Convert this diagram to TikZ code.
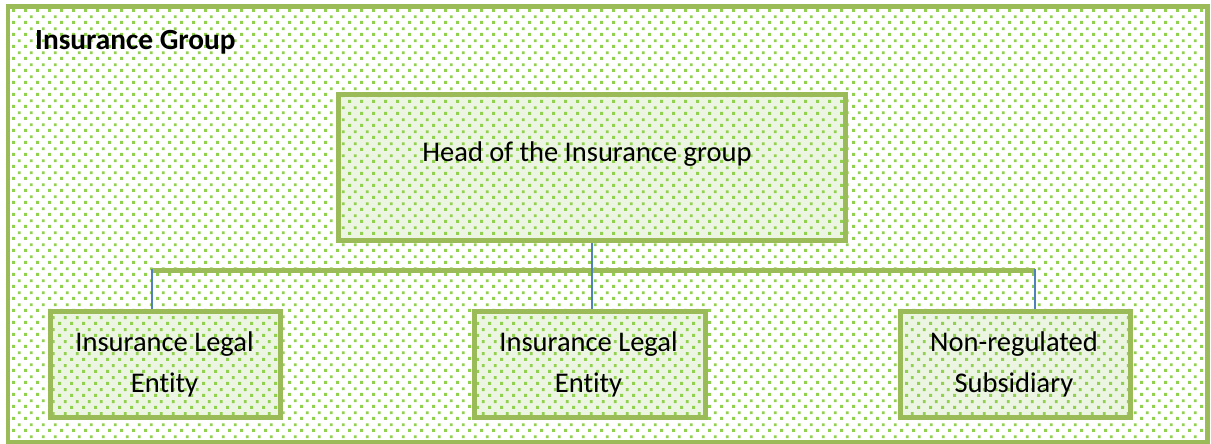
\documentclass[tikz,border=0pt]{standalone}
\usepackage{fontspec}
\setmainfont[Ligatures={NoCommon,NoContextual}]{Carlito}
\usetikzlibrary{patterns.meta}
\definecolor{bordergreen}{RGB}{155,187,89}
\definecolor{dotgreen}{RGB}{146,208,80}
\definecolor{boxfill}{RGB}{235,245,225}
\definecolor{linkblue}{RGB}{79,129,189}
\tikzdeclarepattern{name=gdots, type=uncolored,
  bottom left={(0pt,0pt)}, top right={(11.6pt,11.6pt)}, tile size={(11.6pt,11.6pt)},
  code={\fill (0.2pt,0.2pt) rectangle (3.2pt,3.2pt);
        \fill (6.0pt,6.0pt) rectangle (9.0pt,9.0pt);}}
\tikzset{
  groupbox/.style={draw=bordergreen, line width=4.5pt, pattern={gdots}, pattern color=dotgreen,
    rectangle, inner sep=0pt},
  entitybox/.style={draw=bordergreen, line width=5pt, preaction={fill=boxfill},
    pattern={gdots}, pattern color=dotgreen, rectangle, inner sep=0pt},
  txt/.style={font=\fontsize{28.5}{41}\selectfont, align=center, inner sep=0pt},
  bar/.style={draw=bordergreen, line width=5pt},
  link/.style={draw=linkblue, line width=2pt}
}
\begin{document}
\begin{tikzpicture}[x=1pt,y=-1pt]
\useasboundingbox (0,0) rectangle (1211,444);
\node[groupbox, minimum width=1199.5pt, minimum height=435.5pt] (group) at (607.75,224.25) {};
\node[anchor=base west, inner sep=0pt, font=\fontsize{29.3}{34}\selectfont\bfseries] (title) at (35,50) {Insurance Group};
\node[entitybox, minimum width=507pt, minimum height=145pt] (head) at (591.5,167.5) {};
\node[txt, anchor=base] (headtxt) at (587,161) {Head of the Insurance group};
\node[entitybox, minimum width=230.5pt, minimum height=105.5pt] (le1) at (165.25,364.25) {};
\node[entitybox, minimum width=231pt, minimum height=105.5pt] (le2) at (589.5,364.25) {};
\node[entitybox, minimum width=230pt, minimum height=105.5pt] (ns) at (1015,364.25) {};
\node[txt, anchor=base] (le1txt) at (164.5,392) {Insurance Legal\\Entity};
\node[txt, anchor=base] (le2txt) at (588.5,392) {Insurance Legal\\Entity};
\node[txt, anchor=base] (nstxt) at (1014,392) {Non-regulated\\Subsidiary};
\coordinate (barL) at (152,270);
\coordinate (barR) at (1035,270);
\draw[bar] (barL) -- (barR);
\draw[link] (barL |- 0,269) -- (barL |- le1.north);
\draw[link] (barR |- 0,269) -- (barR |- ns.north);
\draw[link] (head.south) -- (head.south |- le2.north);
\end{tikzpicture}
\end{document}
